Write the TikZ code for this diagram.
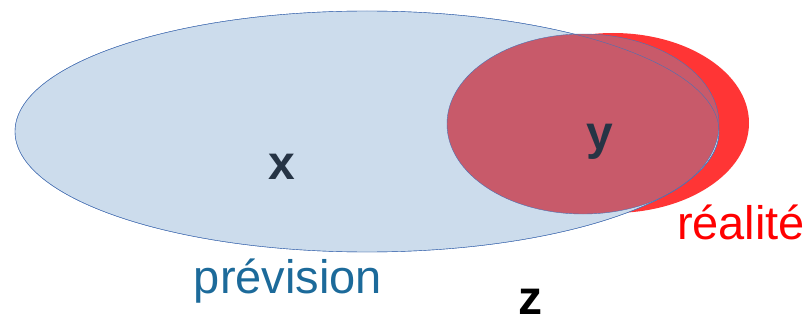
\documentclass[tikz,border=0pt]{standalone}
\usepackage{fontspec}
\setmainfont{Liberation Sans}
\definecolor{prevfill}{HTML}{CCDCEC}
\definecolor{prevline}{HTML}{4A72B4}
\definecolor{realfill}{HTML}{FF3535}
\definecolor{interfill}{HTML}{C85A6A}
\definecolor{prevtext}{HTML}{1C6A9A}
\definecolor{navy}{HTML}{263445}
\begin{document}
\begin{tikzpicture}[x=1pt, y=-1pt,
  lettre/.style={inner sep=0, anchor=base, font=\fontsize{48}{50}\selectfont\bfseries},
  mot/.style={inner sep=0, anchor=base, font=\fontsize{47}{50}\selectfont}]
\useasboundingbox (0,0) rectangle (809,326);

\fill[realfill](613,123) ellipse (136 and 90);
\filldraw[fill=prevfill, draw=prevline](367,131.5) ellipse (352 and 120.5);
\filldraw[fill=interfill, draw=prevline](583,124) ellipse (136 and 90);
\draw[prevline](367,131.5) ellipse (352 and 120.5);

\node[lettre, text=navy] (x) at (282,180) {x};
\node[lettre, text=navy] (y) at (600,150) {y};
\node[lettre, text=black] (z) at (530,314) {z};
\node[mot, text=prevtext] (prevision) at (288,293) {prévision};
\node[mot, text=red] (realite) at (741,240) {réalité};
\end{tikzpicture}
\end{document}
